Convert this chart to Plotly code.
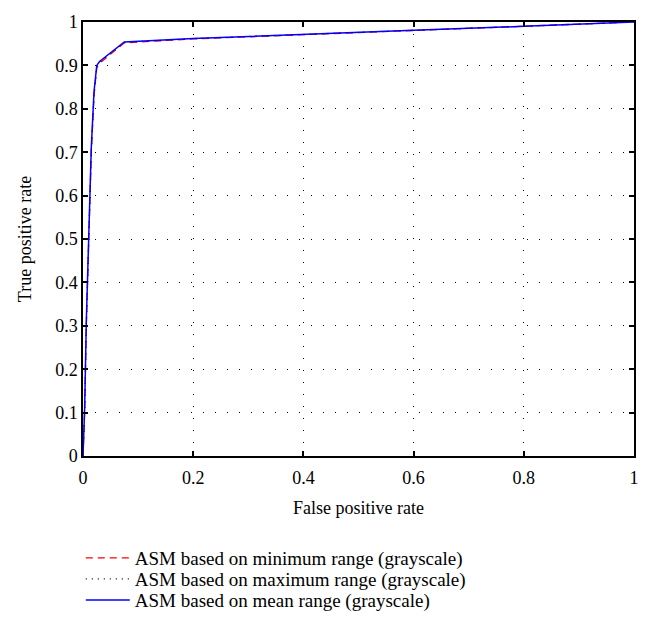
import plotly.graph_objects as go

fpr = [0, 0.003, 0.006, 0.010, 0.015, 0.020, 0.025, 0.030, 0.050, 0.075, 0.2, 0.4, 0.6, 0.8, 1.0]
tpr_min = [0, 0.10, 0.30, 0.50, 0.70, 0.83, 0.895, 0.905, 0.925, 0.952, 0.961, 0.971, 0.980, 0.990, 1.0]
tpr_max = [0, 0.10, 0.30, 0.50, 0.70, 0.83, 0.898, 0.907, 0.928, 0.953, 0.962, 0.972, 0.981, 0.990, 1.0]
tpr_mean = [0, 0.11, 0.31, 0.51, 0.71, 0.84, 0.900, 0.909, 0.930, 0.954, 0.962, 0.972, 0.981, 0.990, 1.0]

names = ["ASM based on minimum range (grayscale)",
         "ASM based on maximum range (grayscale)",
         "ASM based on mean range (grayscale)"]

tickvals_x = [0, 0.2, 0.4, 0.6, 0.8, 1]
ticktext_x = ["0", "0.2", "0.4", "0.6", "0.8", "1"]
tickvals_y = [0, 0.1, 0.2, 0.3, 0.4, 0.5, 0.6, 0.7, 0.8, 0.9, 1]
ticktext_y = ["0", "0.1", "0.2", "0.3", "0.4", "0.5", "0.6", "0.7", "0.8", "0.9", "1"]

font = "Liberation Serif, Times New Roman, serif"
fs = 18

fig = go.Figure()
fig.add_trace(go.Scatter(x=fpr, y=tpr_min, mode="lines", name=names[0], legend="legend",
                         line=dict(color="#ff0000", width=1.3, dash="7px,5px")))
fig.add_trace(go.Scatter(x=fpr, y=tpr_max, mode="lines", name=names[1], legend="legend2",
                         line=dict(color="#000000", width=1.2, dash="1px,5px")))
fig.add_trace(go.Scatter(x=fpr, y=tpr_mean, mode="lines", name=names[2], legend="legend3",
                         line=dict(color="#0000ff", width=1.5)))

axis_common = dict(
    showline=True, linecolor="black", linewidth=1.5, mirror="ticks",
    ticks="inside", ticklen=5, tickcolor="black", tickwidth=1.5,
    showgrid=True, gridcolor="black", gridwidth=1, griddash="1px,11px",
    zeroline=False, tickfont=dict(family=font, size=fs, color="black"),
)

fig.update_xaxes(range=[0, 1], tickvals=tickvals_x, ticktext=ticktext_x, ticklabelstandoff=5,
                 title=dict(text="False positive rate", font=dict(family=font, size=fs, color="black"), standoff=14),
                 **axis_common)
fig.update_yaxes(range=[0, 1], tickvals=tickvals_y, ticktext=ticktext_y,
                 title=dict(text="True positive rate", font=dict(family=font, size=fs, color="black"), standoff=19),
                 **axis_common)

leg_common = dict(x=-0.004, xanchor="left", yanchor="middle",
                  font=dict(family=font, size=19, color="black"),
                  bgcolor="rgba(0,0,0,0)", itemwidth=44, borderwidth=0)

fig.update_layout(
    width=650, height=638,
    margin=dict(l=83, r=16, t=22, b=182),
    plot_bgcolor="white", paper_bgcolor="white",
    font=dict(family=font, size=fs, color="black"),
    legend=dict(y=-0.235, **leg_common),
    legend2=dict(y=-0.2835, **leg_common),
    legend3=dict(y=-0.332, **leg_common),
    showlegend=True,
)

fig.write_html("out.html", config={"displayModeBar": False},
               post_script="document.body.style.margin='0';document.body.style.padding='0';")
